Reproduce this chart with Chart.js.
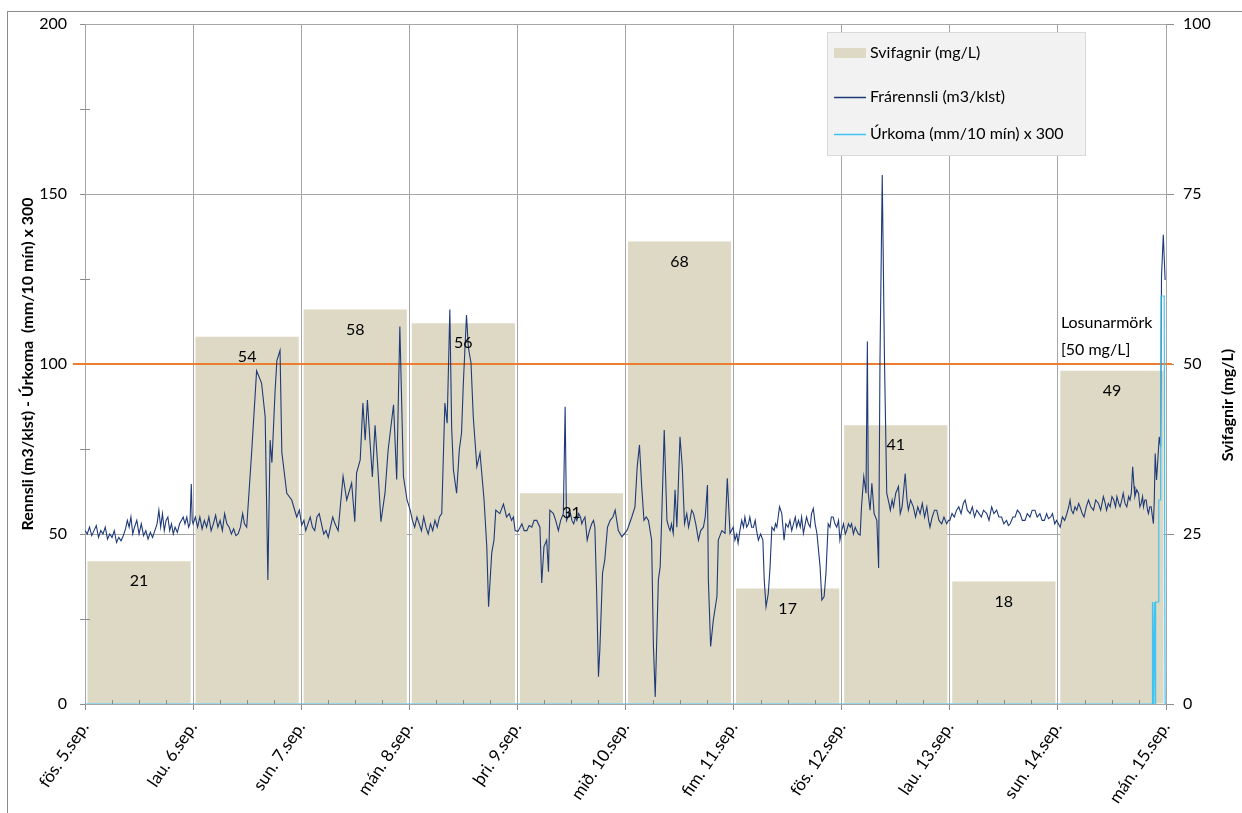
<!DOCTYPE html>
<html>
<head>
<meta charset="utf-8">
<script src="https://cdn.jsdelivr.net/npm/chart.js@4.4.0/dist/chart.umd.min.js"></script>
<style>
  html, body { margin: 0; padding: 0; background: #fff; }
</style>
</head>
<body>
<canvas id="myChart" width="1242" height="813"></canvas>
<script>
// Dagar (x-ás) og svifagnir per dag
const dayLabels = ['fös. 5.sep.', 'lau. 6.sep.', 'sun. 7.sep.', 'mán. 8.sep.', 'þri. 9.sep.', 'mið. 10.sep.',
    'fim. 11.sep.', 'fös. 12.sep.', 'lau. 13.sep.', 'sun. 14.sep.', 'mán. 15.sep.'];
const suspended = [21, 54, 58, 56, 31, 68, 17, 41, 18, 49];
const limitValue = 50;

// Frárennsli per dag: [klst frá upphafi, m3/klst]
const flowDay0 = [[0,51],[0.5,50],[1,52],[1.5,49.5],[2,51],[2.5,52.5],[3,49],[3.5,51],[4,50],[4.5,52],[5,48.5],[5.5,50],[6,49],[6.5,51],
    [7,47.5],[7.5,49],[8,48],[8.5,49.5],[9,51.5],[9.4,54],[9.8,52],[10.2,55],[10.6,50],[11,52],[11.5,54],[12,50],[12.5,53],[13,49.5],
    [13.5,51],[14,48.5],[14.5,50.5],[15,49],[15.5,51],[16,53],[16.4,57],[16.8,52],[17.2,56],[17.6,51],[18,54],[18.4,55],[18.8,51],
    [19.2,53],[19.6,50],[20,52],[20.5,50.5],[21,53],[21.4,54],[21.8,55],[22.2,53],[22.6,55],[23,52],[23.3,53],[23.6,64.7],[23.8,54]];
const flowDay1 = [[24,53],[24.5,55],[25,52],[25.5,55],[26,51.5],[26.5,54],[27,52],[27.5,55],[28,51],[28.5,53],[29,55.5],[29.5,52],
    [30,54],[30.5,51],[31,56],[31.5,53],[32,52],[32.5,50],[33,51.5],[33.5,49.5],[34,50],[34.5,52],[35,56],[35.4,53],[35.9,52],
    [37,74],[38.1,98],[39.2,94.4],[40,84.5],[40.6,36.5],[41.1,77.6],[41.5,71],[42.2,92],[42.6,101],[43.3,104],[43.7,74],[44.8,62],
    [45.9,60],[47,55],[47.6,57],[48.1,52.6]];
const flowDay2 = [[48.6,54],[49,51],[49.5,53],[50,55],[50.5,52],[51,51],[51.5,55],[52,56],[52.5,53],[53,50],[53.5,51],[54,49],
    [54.5,52],[55,55],[55.5,53],[56.2,51],[57.3,67],[58.1,60],[59.2,65],[59.9,53.6],[60.3,68],[61.1,71.8],[61.7,88.5],[62.2,77.6],
    [62.7,89.4],[63.3,76.7],[63.8,66.8],[64.4,82],[65,69.8],[65.7,53.6],[66.6,62],[67.3,74.7],[68.5,88],[69.2,66],[69.9,111],
    [70.7,66.9],[71.5,60],[72.2,57]];
const flowDay3 = [[72.7,54],[73.2,52],[73.7,55],[74.2,53],[74.7,51],[75.2,55],[75.7,52],[76.2,50],[76.7,53],[77.2,51],[77.7,54],
    [78.2,52],[78.7,55],[79.2,56],[79.9,88.5],[80.4,82.6],[81,116],[81.4,81.5],[81.8,68.8],[82.5,62],[83.1,74.7],[83.6,79.7],[84,94.4],
    [84.7,114.4],[85.1,105],[85.7,100.3],[86.2,84.5],[87,69.8],[87.7,73.8],[88.6,60],[89.2,46.3],[89.6,28.6],[90.3,44.4],[90.8,48.2],
    [91.2,57],[92.1,56],[92.9,58.8],[93.6,55],[94.2,56],[94.7,54],[95.1,55],[95.5,51]];
const flowDay4 = [[96.1,50.7],[96.6,52],[97,53],[97.5,51],[98.1,51],[98.6,52.5],[99.2,52],[99.7,54],[100.3,54],[101,52],[101.4,35.6],
    [101.9,46.3],[102.5,48.2],[102.9,38.9],[103.2,57],[104,56],[104.5,54],[105.1,51],[105.6,54],[106.2,56],[106.6,87.4],[106.9,54],
    [107.7,56.6],[108.1,54],[108.5,53],[108.9,55],[109.2,54],[109.6,56],[110,55],[110.3,53],[110.6,54],[111,55],[111.5,48.2],[112,51],
    [112.5,53],[112.9,54],[113.2,52],[113.6,32.5],[114,8],[114.3,15.9],[114.9,38.5],[115.4,42.4],[116,52],[116.6,54],[117.2,55],
    [117.7,57],[118.4,51],[119.2,49.2]];
const flowDay5 = [[120.3,51],[120.6,52],[121.4,55],[122.1,58],[122.6,69.8],[123.1,76.2],[123.6,63.9],[124.1,54],[124.6,55],[125.1,54],
    [125.8,48.2],[126.2,16.9],[126.6,2.1],[126.9,16.9],[127.3,36.5],[127.7,40.4],[128,53],[128.6,80.6],[129.2,54],[129.6,52],[129.9,51],
    [130.2,53],[130.6,50.2],[131,63],[131.4,52],[132.1,78.6],[132.6,69.8],[133.1,53],[133.6,56],[134,52],[134.3,54],[134.7,57],[135.1,56],
    [135.6,53],[136.2,48.2],[136.7,51],[137.3,52],[137.7,55],[138.2,64.4],[138.4,36.5],[138.9,16.9],[139.5,24.7],[140.3,31.6],[140.6,48.2],
    [141.4,51],[142.1,50.2],[142.6,66.4],[143.2,50.2],[143.9,52]];
const flowDay6 = [[144.3,48.2],[144.7,50],[145,47.3],[145.4,51],[145.8,54],[146.2,52],[146.5,55],[146.9,52],[147.3,53],[147.6,55],
    [148,52],[148.4,52],[148.8,54],[149.1,51],[149.5,48.2],[150,50],[150.5,48.2],[150.8,36.5],[151.2,28.6],[151.7,32.5],[152.1,40.4],
    [152.5,52],[153,51],[153.3,53],[153.6,52],[153.9,55],[154.2,58],[154.7,56],[155.2,48.2],[155.6,53],[156.1,52],[156.5,54],[156.9,51],
    [157.3,53],[157.7,55],[158,52],[158.4,54],[158.8,52],[159.1,55],[159.5,50.2],[159.9,53],[160.2,55],[160.6,53],[161,52],[161.3,56],
    [161.7,57.5],[162.1,53],[162.5,50.2],[163.2,40.4],[163.6,30.6],[164.1,31.6],[164.5,38.4],[165,53],[165.4,52],[165.7,55],[166.1,55],
    [166.5,53],[166.9,52],[167.3,54],[167.6,48.2]];
const flowDay7 = [[168,51],[168.4,53],[168.8,50],[169.1,51],[169.5,53],[169.9,52],[170.2,53],[170.6,50],[171,52],[171.3,51],[171.7,50],
    [172.1,49.7],[172.4,58],[172.9,66.9],[173.4,62],[173.7,106.6],[173.9,62],[174.3,57],[174.7,64.9],[175.2,56],[175.8,54],[176.2,40],
    [176.5,101],[177,155.6],[177.5,101],[178,62],[178.5,59],[178.8,57],[179.2,60],[179.5,58],[180,62],[180.6,64],[181,56],[181.4,58],
    [181.7,62],[182.1,67.8],[182.5,60],[182.8,57],[183.3,60],[183.9,58],[184.4,55],[184.9,58],[185.4,56],[185.9,59],[186.4,55],
    [186.9,58],[187.3,54],[187.6,52],[188.1,55],[188.6,57],[189.1,57],[189.6,54],[190.2,53],[190.7,55],[191.3,53],[191.7,54]];
const flowDay8 = [[192,54],[192.5,56],[193,55],[193.5,57],[194,58],[194.5,56],[195,59],[195.4,60],[195.9,57],[196.5,56],[197,58],
    [197.5,55],[198,57],[198.5,56],[199,55],[199.5,57],[200.2,56],[200.7,54],[201.3,58],[201.8,56],[202.4,57],[202.9,55],[203.5,55],
    [204,53],[204.6,54],[205,52.5],[205.4,53],[206,55],[206.5,55],[207,57],[207.6,56],[208.1,54],[208.7,54],[209.2,56],[209.8,55],
    [210.3,57],[210.9,57],[211.4,55],[212,56],[212.5,54],[213,54],[213.5,56],[213.9,54.5],[214.4,55],[214.8,56],[215.3,53],[215.7,54]];
const flowDay9 = [[216.1,53],[216.5,52],[217,55],[217.5,54],[218,56],[218.4,58],[218.7,60],[219,57],[219.4,56],[219.8,58],[220.2,57],
    [220.6,59],[220.9,58],[221.4,56],[221.8,55],[222.3,58],[222.8,60],[223.3,58],[223.9,57],[224.4,60],[225,59],[225.5,57],[226.1,61],
    [226.5,59],[226.8,57],[227.2,59],[227.6,58],[228,61],[228.4,60],[228.8,58],[229.1,61],[229.5,59],[229.8,58],[230.2,60],[230.5,62],
    [230.9,59],[231.3,58],[231.7,61],[232,60],[232.3,62],[232.6,69.8],[232.9,64],[233.1,61],[233.5,63],[233.9,62],[234.2,58],[234.5,59],
    [234.8,61],[235,58],[235.3,60],[235.6,60],[235.9,57],[236.1,56],[236.4,58],[236.7,58],[237,55],[237.2,53],[237.4,60],[237.6,73.7],
    [237.9,65.9],[238.2,72],[238.5,78.6],[238.8,75.7],[239,125.7],[239.4,138],[239.8,124.7]];
const flowDays = [flowDay0, flowDay1, flowDay2, flowDay3, flowDay4, flowDay5, flowDay6, flowDay7, flowDay8, flowDay9];

// Úrkoma x 300
const rainHours = [0, 236.9, 237.0, 237.2, 237.4, 237.6, 237.7, 238.3, 238.4, 238.8, 238.9, 239.6, 239.8, 240];
const rainValues = [0, 0, 30, 0, 30, 0, 30, 30, 60, 60, 120, 120, 0, 0];

const font = 'Lato';
const barColor = '#DDD9C4';
const flowColor = '#1F3A78';
const rainColor = '#3EC3F2';
const limitColor = '#ED7D31';

const extras = {
    id: 'extras',
    beforeDraw(chart) {
        const ctx = chart.ctx;
        ctx.save();
        ctx.fillStyle = '#fff';
        ctx.fillRect(0, 0, chart.width, chart.height);
        ctx.strokeStyle = '#8c8c8c';
        ctx.lineWidth = 1;
        ctx.strokeRect(7.5, 11.5, chart.width, chart.height);
        ctx.restore();
    },
    afterDatasetsDraw(chart) {
        const ctx = chart.ctx;
        const x = chart.scales.x, y = chart.scales.y, y1 = chart.scales.y1;
        const area = chart.chartArea;
        ctx.save();
        // minni merki
        ctx.strokeStyle = '#8c8c8c';
        ctx.lineWidth = 1;
        ctx.beginPath();
        for (let h = 6; h < 240; h += 6) {
            if (h % 24 === 0) continue;
            const px = Math.round(x.getPixelForValue(h)) + 0.5;
            ctx.moveTo(px, area.bottom);
            ctx.lineTo(px, area.bottom - 4);
        }
        [25, 75, 125, 175].forEach(v => {
            const py = Math.round(y.getPixelForValue(v)) + 0.5;
            ctx.moveTo(area.left - 5, py);
            ctx.lineTo(area.left + 5, py);
        });
        ctx.stroke();

        // gildi á súlum
        ctx.fillStyle = '#000';
        ctx.font = '16px ' + font;
        ctx.textAlign = 'center';
        ctx.textBaseline = 'middle';
        chart.getDatasetMeta(0).data.forEach((bar, i) => {
            ctx.fillText(String(suspended[i]), bar.x, bar.y + 20);
        });

        // losunarmörk
        ctx.textAlign = 'left';
        const lxp = x.getPixelForValue(216) + 3;
        const lyp = y1.getPixelForValue(limitValue);
        ctx.fillText('Losunarmörk', lxp, lyp - 41);
        ctx.fillText('[50 mg/L]', lxp, lyp - 14);
        ctx.restore();
    },
    afterDraw(chart) {
        const ctx = chart.ctx;
        ctx.save();
        // skýringar
        const lx = 827, ly = 32;
        ctx.fillStyle = '#F2F2F2';
        ctx.fillRect(lx, ly, 258, 123);
        ctx.strokeStyle = '#D9D9D9';
        ctx.lineWidth = 1;
        ctx.strokeRect(lx + 0.5, ly + 0.5, 258, 123);
        const ds = chart.data.datasets;
        const rows = [53, 97, 134];
        ctx.fillStyle = barColor;
        ctx.fillRect(834, rows[0] - 5, 32, 10);
        ctx.lineWidth = 1.5;
        ctx.strokeStyle = flowColor;
        ctx.beginPath(); ctx.moveTo(834, rows[1] + 0.5); ctx.lineTo(866, rows[1] + 0.5); ctx.stroke();
        ctx.strokeStyle = rainColor;
        ctx.beginPath(); ctx.moveTo(834, rows[2] + 0.5); ctx.lineTo(866, rows[2] + 0.5); ctx.stroke();
        ctx.fillStyle = '#000';
        ctx.font = '16px ' + font;
        ctx.textAlign = 'left';
        ctx.textBaseline = 'middle';
        [ds[0].label, ds[2].label, ds[3].label].forEach((t, i) => ctx.fillText(t, 870, rows[i]));

        // titill hægri áss
        ctx.translate(1228, 405);
        ctx.rotate(-Math.PI / 2);
        ctx.font = 'bold 16px ' + font;
        ctx.textAlign = 'center';
        ctx.fillText('Svifagnir (mg/L)', 0, 0);
        ctx.restore();
    }
};

const options = {
    type: 'line',
    data: {
        datasets: [{
            type: 'bar',
            label: 'Svifagnir (mg/L)',
            data: suspended.map((v, i) => ({ x: i * 24 + 12, y: v })),
            yAxisID: 'y1',
            backgroundColor: barColor,
            borderWidth: 0,
            barPercentage: 0.955,
            categoryPercentage: 1,
            order: 4
        }, {
            label: 'Losunarmörk',
            data: [{ x: -2.7, y: limitValue }, { x: 241.3, y: limitValue }],
            yAxisID: 'y1',
            borderColor: limitColor,
            borderWidth: 2.2,
            pointRadius: 0,
            clip: false,
            order: 3
        }, {
            label: 'Frárennsli (m3/klst)',
            data: flowDays.flat().map(p => ({ x: p[0], y: p[1] })),
            yAxisID: 'y',
            borderColor: flowColor,
            borderWidth: 1.1,
            pointRadius: 0,
            tension: 0,
            order: 2
        }, {
            label: 'Úrkoma (mm/10 mín) x 300',
            data: rainHours.map((h, i) => ({ x: h, y: rainValues[i] })),
            yAxisID: 'y',
            borderColor: rainColor,
            borderWidth: 1.2,
            pointRadius: 0,
            tension: 0,
            order: 1
        }]
    },
    options: {
        responsive: false,
        animation: false,
        events: [],
        layout: { padding: { top: 24, left: 0, right: 0, bottom: 0 } },
        plugins: {
            legend: { display: false },
            tooltip: { enabled: false }
        },
        scales: {
            x: {
                type: 'linear',
                min: 0,
                max: 240,
                offset: false,
                afterFit: s => { s.height = 109; },
                grid: { color: '#A6A6A6', tickLength: 6, offset: false, tickColor: '#8c8c8c' },
                border: { color: '#A6A6A6' },
                ticks: {
                    stepSize: 24,
                    autoSkip: false,
                    minRotation: 56,
                    maxRotation: 56,
                    padding: 8,
                    color: '#000',
                    font: { family: font, size: 17 },
                    callback: v => dayLabels[Math.round(v / 24)]
                }
            },
            y: {
                position: 'left',
                min: 0,
                max: 200,
                afterFit: s => { s.width = 85; },
                grid: { color: '#A6A6A6', tickLength: 5, tickColor: '#8c8c8c' },
                border: { color: '#A6A6A6' },
                ticks: { stepSize: 50, padding: 13, color: '#000', font: { family: font, size: 16 } },
                title: {
                    display: true,
                    text: 'Rennsli (m3/klst) - Úrkoma  (mm/10 mín) x 300',
                    color: '#000',
                    font: { family: font, size: 16, weight: 'bold' },
                    padding: { top: 18, bottom: 0 }
                }
            },
            y1: {
                position: 'right',
                min: 0,
                max: 100,
                afterFit: s => { s.width = 76; },
                grid: { drawOnChartArea: false, tickLength: 8, tickColor: '#8c8c8c' },
                border: { color: '#A6A6A6' },
                ticks: { stepSize: 25, padding: 9, color: '#000', font: { family: font, size: 16 } }
            }
        }
    },
    plugins: [extras]
};

const ctx = document.getElementById('myChart');
new Chart(ctx, options);
</script>
</body>
</html>
